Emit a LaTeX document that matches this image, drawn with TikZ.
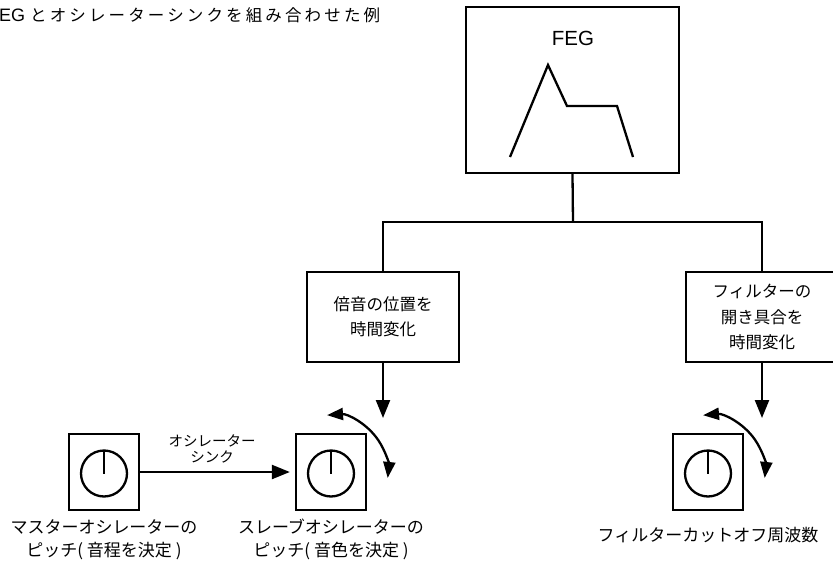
\documentclass[tikz,border=0pt]{standalone}
\usepackage{fontspec}
\setmainfont{Noto Sans CJK JP}
\newfontfamily\latinfont{Liberation Sans}
\usetikzlibrary{arrows.meta}
\tikzset{
  tri/.style={-{Triangle[length=18pt,width=14pt]}},
  dbl/.style={{Triangle[length=16pt,width=12pt]}-{Triangle[length=16pt,width=12pt]}},
  fegbox/.style={draw, line width=2.3pt, minimum width=213pt, minimum height=166pt, inner sep=0pt},
  midbox/.style={draw, line width=1.4pt, minimum width=152pt, minimum height=90pt, inner sep=0pt, align=center, font=\fontsize{16.5}{25.5}\selectfont},
  knobbox/.style={draw, line width=2.3pt, minimum width=70pt, minimum height=76pt, inner sep=0pt},
  lab/.style={align=center, inner sep=0pt, font=\fontsize{17}{23}\selectfont},
  conn/.style={line width=2.3pt},
}
\begin{document}
\begin{tikzpicture}[x=1pt,y=-1pt]
\useasboundingbox (0,0) rectangle (833,570);
% title
\node[anchor=west, inner sep=0pt, font=\fontsize{16.5}{20}\selectfont\addfontfeatures{LetterSpace=19}] (title) at (-12,15) {{\latinfont\fontsize{18}{20}\selectfont FEG }とオシレーターシンクを組み合わせた例};
% FEG box
\node[fegbox] (feg) at (572.5,90) {};
\node[inner sep=0pt, font=\latinfont\fontsize{20.5}{24}\selectfont] (fegl) at (573,38) {FEG};
\draw[line width=2.3pt, line join=miter] (510,157) -- (548,65) -- (567,106) -- (617,106) -- (633,157);
% middle boxes
\node[midbox] (harm) at (383,317) {倍音の位置を\\時間変化};
\node[midbox] (filt) at (762,317) {フィルターの\\開き具合を\\時間変化};
% tree connectors
\coordinate (j) at (573,222);
\draw[conn] (feg.south) -- (j);
\draw[conn] (harm.north) |- (j) -| (filt.north);
% down arrows
\coordinate (ha) at (383,418);
\coordinate (fa) at (762,418);
\draw[conn, tri] (harm.south) -- (ha);
\draw[conn, tri] (filt.south) -- (fa);
% knobs
\node[knobbox] (mk) at (104,472) {};
\node[knobbox] (sk) at (331,472) {};
\node[knobbox] (fk) at (708,472) {};
\foreach \k in {mk,sk,fk}{
  \draw[line width=2.3pt] ([yshift=-1.5pt]\k.center) circle (23pt);
  \draw[line width=2.3pt] ([yshift=-1.5pt]\k.center) -- ++(0,-23);
}
% sync arrow
\draw[conn, tri, shorten >=5pt] (mk.east) -- (sk.west);
\node[align=center, inner sep=0pt, font=\fontsize{14.5}{15.5}\selectfont] (sync) at (212,449) {オシレーター\\シンク};
% curved arrows
\draw[conn, dbl] (sk.center) ++(-94:57) arc[start angle=-94, end angle=6, radius=57];
\draw[conn, dbl] (fk.center) ++(-95:57) arc[start angle=-95, end angle=6, radius=57];
% labels
\node[lab] (ml) at (104,539.5) {マスターオシレーターの\\ピッチ( 音程を決定 )};
\node[lab] (sl) at (331,539.5) {スレーブオシレーターの\\ピッチ( 音色を決定 )};
\node[lab] (fl) at (708,535) {フィルターカットオフ周波数};
\end{tikzpicture}
\end{document}
